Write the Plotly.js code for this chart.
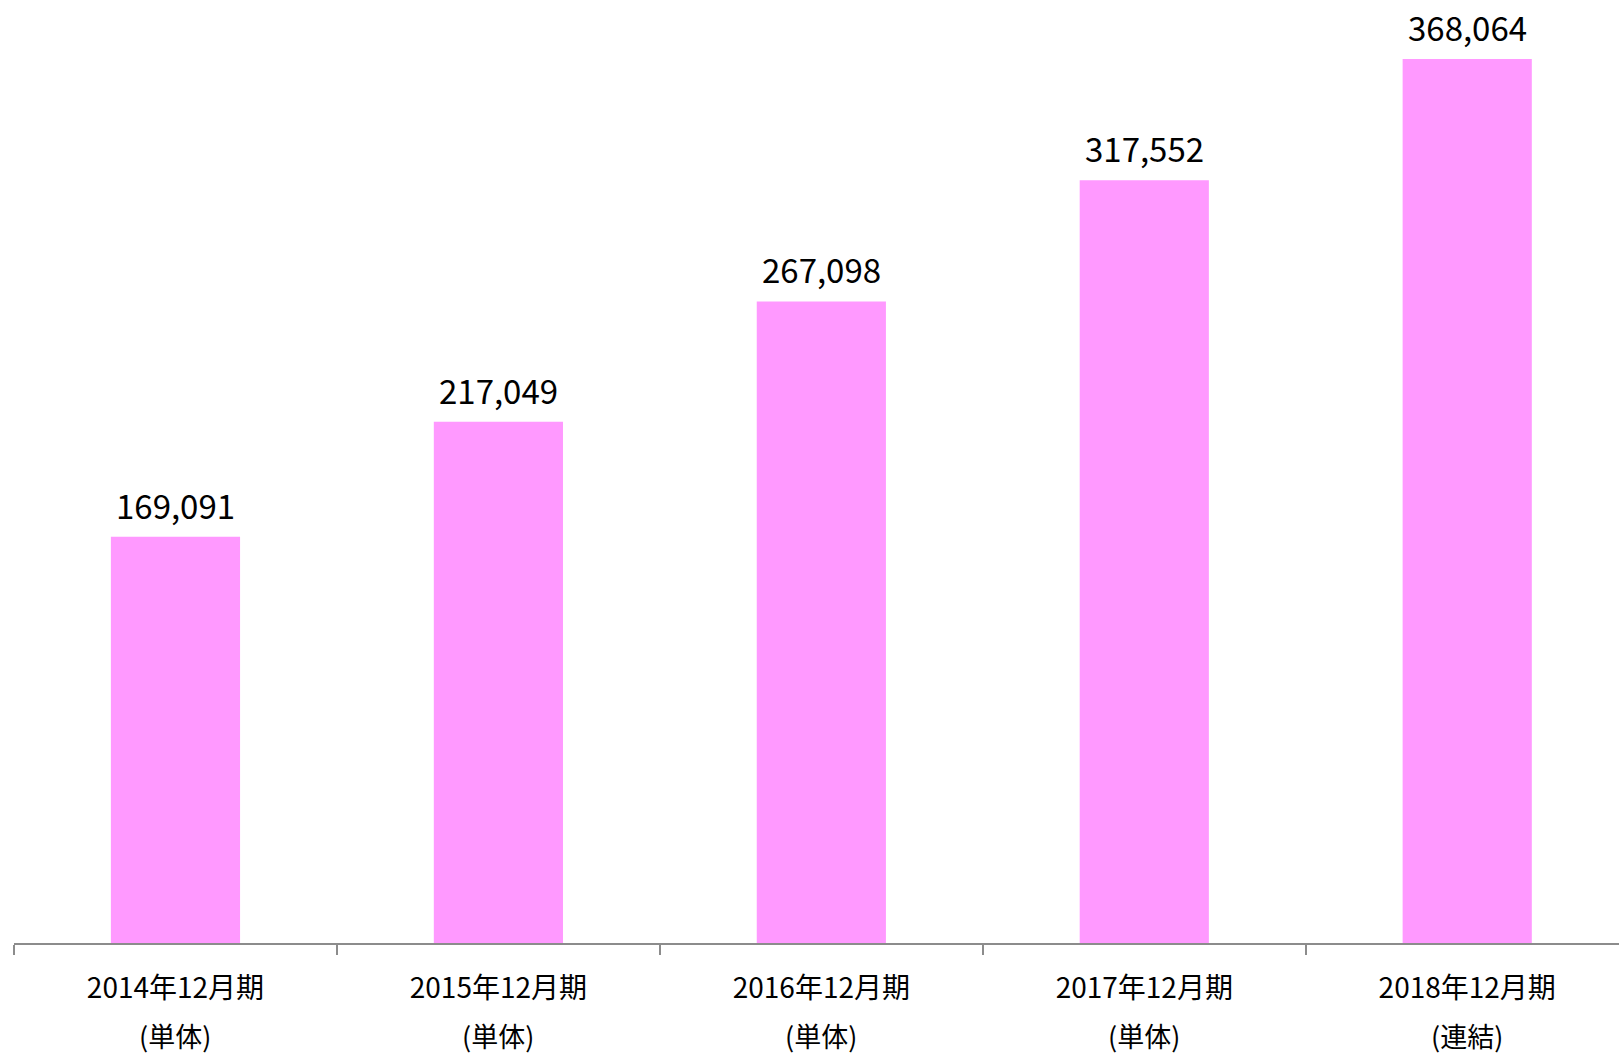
<!DOCTYPE html>
<html>
<head>
<meta charset="utf-8">
<script src="https://cdn.plot.ly/plotly-3.0.1.min.js"></script>
<style>html,body{margin:0;padding:0;background:#fff;}#chart{width:1619px;height:1055px;}</style>
</head>
<body>
<div id="chart"></div>
<script>
const periods = ['2014年12月期', '2015年12月期', '2016年12月期', '2017年12月期', '2018年12月期'];
const scopes = ['(単体)', '(単体)', '(単体)', '(単体)', '(連結)'];
const values = [169091, 217049, 267098, 317552, 368064];

const FONT = '"Noto Sans CJK JP", "Noto Sans", sans-serif';

const trace = {
  type: 'bar',
  x: periods,
  y: values,
  width: 0.4,
  marker: {color: '#FF99FF', line: {width: 0}},
  hoverinfo: 'skip'
};

const annotations = [];
periods.forEach((p, i) => {
  annotations.push({
    x: p, y: values[i], xref: 'x', yref: 'y',
    text: values[i].toLocaleString('en-US'),
    showarrow: false, yanchor: 'bottom', yshift: 6,
    font: {family: FONT, size: 33, color: '#000'}
  });
  annotations.push({
    x: p, y: 0, xref: 'x', yref: 'paper',
    text: scopes[i],
    showarrow: false, yanchor: 'middle', yshift: -92,
    font: {family: FONT, size: 27, color: '#000'}
  });
});

const layout = {
  width: 1619, height: 1055,
  margin: {l: 14, r: 0, t: 0, b: 112, pad: 0},
  paper_bgcolor: '#fff', plot_bgcolor: '#fff',
  showlegend: false,
  font: {family: FONT},
  xaxis: {
    type: 'category',
    range: [-0.5, 4.47],
    tickson: 'boundaries',
    ticks: 'outside', ticklen: 10, tickwidth: 2, tickcolor: '#8c8c8c',
    showline: true, linecolor: '#8c8c8c', linewidth: 2,
    showgrid: false, zeroline: false,
    tickfont: {family: FONT, size: 28, color: '#000'},
    ticklabelstandoff: 19,
    fixedrange: true
  },
  yaxis: {
    range: [0, 392600],
    visible: false, showgrid: false, zeroline: false,
    fixedrange: true
  },
  annotations: annotations
};

Plotly.newPlot('chart', [trace], layout, {staticPlot: true, displayModeBar: false});
</script>
</body>
</html>
